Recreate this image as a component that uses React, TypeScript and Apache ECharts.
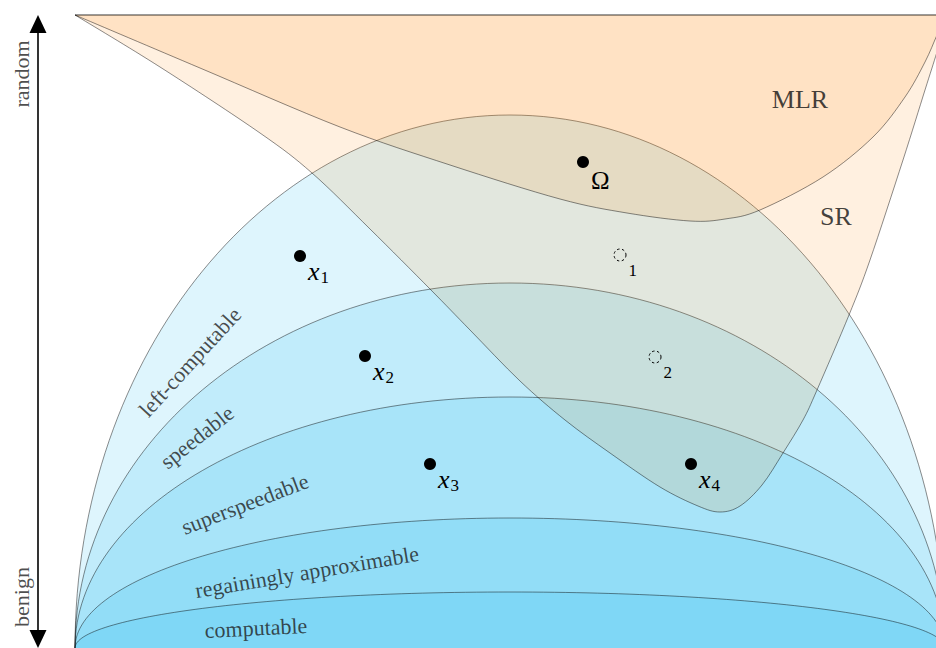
import React, { useEffect, useRef } from "react";
import * as echarts from "echarts";

// ---- diagram extent (diagram units) ----
const X_MAX = 936;
const Y_MAX = 648;

// ---- nested "benign" regions (half-ellipses on the base line) ----
const regionNames = [
  "left-computable",
  "speedable",
  "superspeedable",
  "regainingly approximable",
  "computable",
];
const regionTops = [115, 283, 397, 518, 592];
const lensCenterX = 510;
const lensBaseY = 648;
const lensHalfWidth = 435;

const regionLabelX = [190, 197, 245, 307, 256];
const regionLabelY = [362, 437, 504, 572, 628];
const regionLabelAngle = [47.5, 38.6, 21, 9.5, 2.8];

// ---- "random" regions: boundary points ----
const srBoundary: number[][] = [
  [75, 15], [160, 67], [260, 133], [312, 173], [370, 229], [430, 289],
  [470, 330], [520, 381], [565, 420], [610, 453], [660, 487], [698, 506],
  [720, 512], [740, 506], [762, 485], [783, 453], [803, 420], [817, 390],
  [849, 315], [870, 260], [903, 160], [925, 90], [937, 52], [948, 15],
];
const mlrBoundary: number[][] = [
  [75, 15], [200, 68], [340, 127], [450, 165], [560, 199], [627, 213],
  [690, 221], [725, 219], [760, 210], [823, 177], [873, 137], [905, 97],
  [925, 62], [937, 35], [946, 15],
];
const randomNames = ["SR", "MLR"];
const randomLabelX = [836, 800];
const randomLabelY = [216, 99];

// ---- points ----
const pointNames = ["1", "2", "3", "4", "Ω"];
const pointX = [300, 365, 430, 691, 583];
const pointY = [256, 356, 464, 464, 162];
const hollowNames = ["1", "2"];
const hollowX = [620, 655];
const hollowY = [255, 357];

// ---- arrow axis labels ----
const axisNames = ["random", "benign"];
const axisLabelX = [21, 21];
const axisLabelY = [74, 597];

const SERIF = '"Liberation Serif"';
const TEXT = "#1e1e1e";
const EDGE = "rgba(0,0,0,0.45)";

function splinePath(pts: number[][]): string {
  let d = `M${pts[0][0]},${pts[0][1]}`;
  for (let i = 0; i < pts.length - 1; i++) {
    const p0 = pts[i - 1] || pts[i];
    const p1 = pts[i];
    const p2 = pts[i + 1];
    const p3 = pts[i + 2] || p2;
    const c1x = p1[0] + (p2[0] - p0[0]) / 6;
    const c1y = p1[1] + (p2[1] - p0[1]) / 6;
    const c2x = p2[0] - (p3[0] - p1[0]) / 6;
    const c2y = p2[1] - (p3[1] - p1[1]) / 6;
    d += ` C${c1x},${c1y} ${c2x},${c2y} ${p2[0]},${p2[1]}`;
  }
  return d + " Z";
}

const randomShapes = [srBoundary, mlrBoundary];

export default function App() {
  const ref = useRef<HTMLDivElement>(null);
  useEffect(() => {
    if (!ref.current) return;
    const chart = echarts.init(ref.current, undefined, { renderer: "svg" });

    const subRich = {
      v: { fontFamily: SERIF, fontStyle: "italic", fontSize: 26, color: "#000" },
      s: { fontFamily: SERIF, fontSize: 17, color: "#000", padding: [12, 0, 0, 1] },
      o: { fontFamily: SERIF, fontSize: 25, color: "#000", padding: [6, 0, 0, 0] },
    };

    const option: any = {
      animation: false,
      textStyle: { fontFamily: SERIF },
      grid: { left: 0, right: 0, top: 0, bottom: 0 },
      xAxis: { type: "value", min: 0, max: X_MAX, show: false },
      yAxis: { type: "value", min: 0, max: Y_MAX, inverse: true, show: false },
      graphic: [
        {
          type: "line",
          shape: { x1: 38, y1: 30, x2: 38, y2: 632 },
          style: { stroke: "#000", lineWidth: 1.6 },
        },
        {
          type: "polygon",
          shape: { points: [[38, 15], [29.5, 33], [46.5, 33]] },
          style: { fill: "#000" },
        },
        {
          type: "polygon",
          shape: { points: [[38, 648], [29.5, 630], [46.5, 630]] },
          style: { fill: "#000" },
        },
      ],
      series: [
        {
          type: "custom",
          name: "regions",
          data: regionTops.map((t) => [lensCenterX, t]),
          renderItem: (params: any, api: any) => {
            const c = api.coord([lensCenterX, lensBaseY]);
            const top = api.coord([lensCenterX, api.value(1)]);
            const right = api.coord([lensCenterX + lensHalfWidth, lensBaseY]);
            return {
              type: "ellipse",
              shape: { cx: c[0], cy: c[1], rx: right[0] - c[0], ry: Math.abs(c[1] - top[1]) },
              style: { fill: "rgba(0,174,239,0.13)", stroke: EDGE, lineWidth: 1 },
            };
          },
          z: 1,
        },
        {
          type: "custom",
          name: "random",
          data: randomShapes.map((_, i) => [i, 0]),
          renderItem: (params: any, api: any) => {
            const pts = randomShapes[params.dataIndex].map((p) => api.coord(p));
            return {
              type: "path",
              shape: { pathData: splinePath(pts) },
              style: { fill: "rgba(255,128,0,0.12)", stroke: EDGE, lineWidth: 1 },
            };
          },
          z: 2,
        },
        {
          type: "scatter",
          name: "labels",
          symbolSize: 0,
          itemStyle: { color: "rgba(0,0,0,0)" },
          z: 5,
          data: [
            ...regionNames.map((n, i) => ({
              name: n,
              value: [regionLabelX[i], regionLabelY[i]],
              label: { rotate: regionLabelAngle[i], fontSize: 22 },
            })),
            ...randomNames.map((n, i) => ({
              name: n,
              value: [randomLabelX[i], randomLabelY[i]],
              label: { fontSize: 26, color: "#111" },
            })),
            ...axisNames.map((n, i) => ({
              name: n,
              value: [axisLabelX[i], axisLabelY[i]],
              label: { rotate: 90, fontSize: 22 },
            })),
          ],
          label: {
            show: true,
            position: "inside",
            formatter: (p: any) => p.name,
            fontFamily: SERIF,
            color: TEXT,
          },
        },
        {
          type: "scatter",
          name: "points",
          symbol: "circle",
          symbolSize: 12,
          itemStyle: { color: "#000", opacity: 1 },
          z: 6,
          data: pointNames.map((n, i) => ({ name: n, value: [pointX[i], pointY[i]] })),
          label: {
            show: true,
            position: "right",
            distance: 2,
            offset: [0, 15],
            fontFamily: SERIF,
            formatter: (p: any) => (p.name === "Ω" ? "{o|Ω}" : `{v|x}{s|${p.name}}`),
            rich: subRich,
          },
        },
        {
          type: "scatter",
          name: "hollow",
          symbol: "circle",
          symbolSize: 12,
          itemStyle: {
            color: "rgba(0,0,0,0)",
            borderColor: "#000",
            borderWidth: 1,
            borderType: [2.5, 2.5],
            opacity: 1,
          },
          z: 6,
          data: hollowNames.map((n, i) => ({ name: n, value: [hollowX[i], hollowY[i]] })),
          label: {
            show: true,
            position: "right",
            distance: 2,
            offset: [0, 15],
            formatter: (p: any) => p.name,
            fontFamily: SERIF,
            fontSize: 17,
            color: "#000",
          },
        },
      ],
    };
    chart.setOption(option);
    return () => chart.dispose();
  }, []);
  return (
    <div
      ref={ref}
      style={{ position: "absolute", left: 0, top: 0, width: 936, height: 648, background: "#fff" }}
    />
  );
}
